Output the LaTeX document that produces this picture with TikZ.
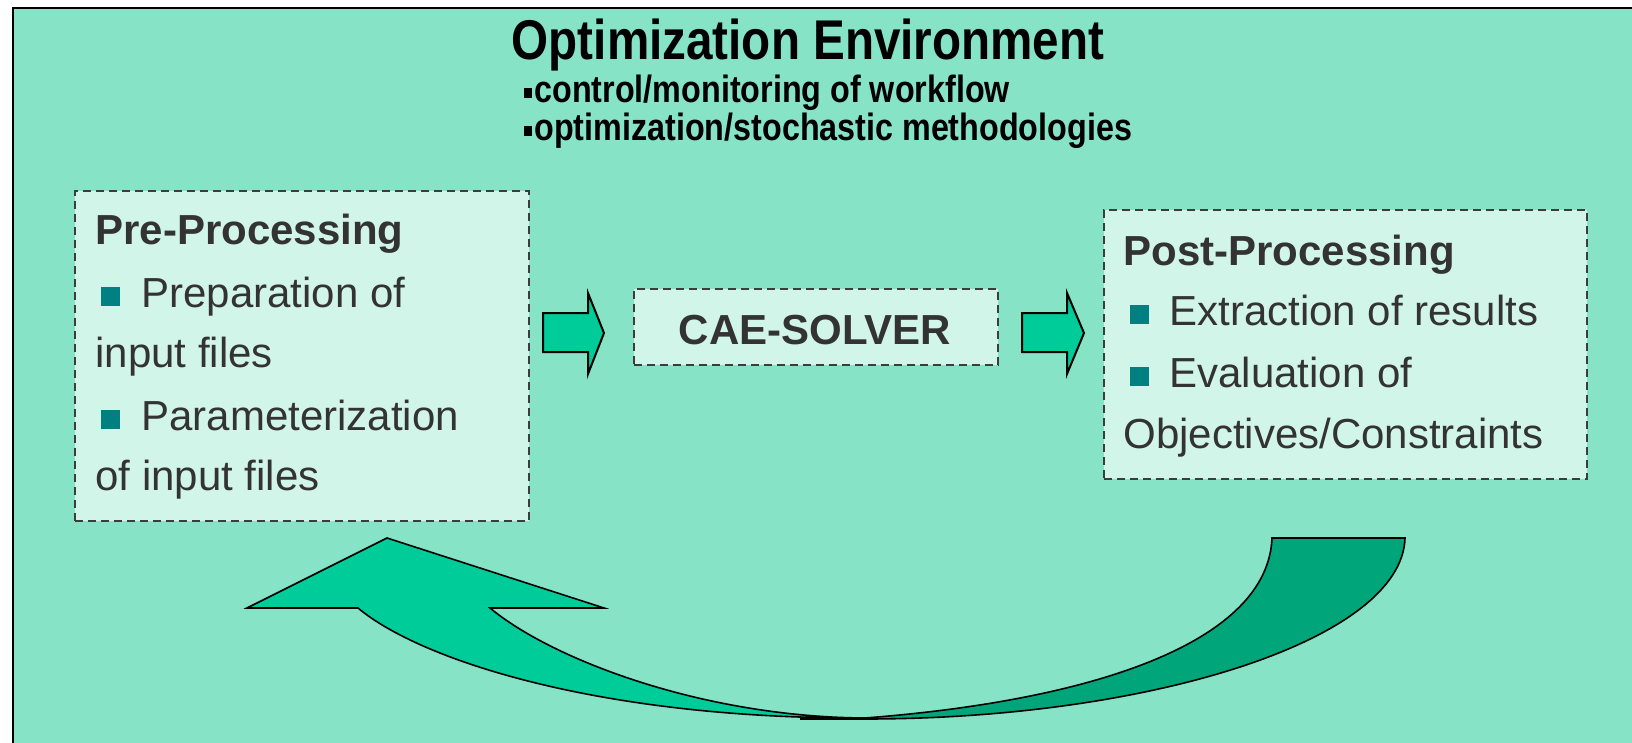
\documentclass[tikz,border=0pt]{standalone}
\usepackage{fontspec}
\setmainfont{Liberation Sans}
\newfontfamily\narrowsans[FakeStretch=0.85]{Liberation Sans}
\definecolor{bgmint}{RGB}{135,227,198}
\definecolor{boxmint}{RGB}{210,245,233}
\definecolor{arrowgreen}{RGB}{0,204,153}
\definecolor{darkgreen}{RGB}{0,166,122}
\definecolor{bullteal}{RGB}{0,128,128}
\definecolor{txtgray}{RGB}{51,51,51}
\definecolor{dashgray}{RGB}{60,60,60}
\tikzset{
  dbox/.style={draw=dashgray, fill=boxmint, dash pattern=on 4pt off 2.5pt, line width=0.9pt, inner sep=0pt, anchor=north west},
  btxt/.style={inner sep=0pt, anchor=base west, text=txtgray, font=\fontsize{21}{25}\selectfont},
  bhead/.style={btxt, font=\fontsize{21}{25}\selectfont\bfseries},
  tbul/.style={fill=bullteal, inner sep=0pt, minimum size=9.5pt, anchor=north west},
  sbul/.style={fill=black, inner sep=0pt, minimum width=3.8pt, minimum height=5pt, anchor=north west},
  stxt/.style={inner sep=0pt, anchor=base west, font=\narrowsans\fontsize{19}{22}\selectfont\bfseries},
  blockarrow/.style={fill=arrowgreen, draw=black, line width=1pt, line join=miter},
  curvearrow/.style={draw=black, line width=0.8pt, line join=miter}
}
\begin{document}
\begin{tikzpicture}[x=0.5pt,y=-0.5pt]
\useasboundingbox (0,0) rectangle (1632,743);
% background frame
\fill[bgmint] (13,8) rectangle (1632,743);
\draw[line width=1pt] (13,743) -- (13,8) -- (1632,8);

% title
\node[inner sep=0pt, anchor=base, font=\narrowsans\fontsize{28}{32}\selectfont\bfseries] (title) at (808,60) {Optimization Environment};
\node[sbul] (sb1) at (524,88) {};
\node[stxt] (s1) at (534,103) {control/monitoring of workflow};
\node[sbul] (sb2) at (524,126) {};
\node[stxt] (s2) at (534,141) {optimization/stochastic methodologies};

% boxes
\node[dbox, minimum width=227pt, minimum height=165pt] (pre) at (74,190) {};
\node[dbox, minimum width=182pt, minimum height=38pt] (cae) at (633,288) {};
\node[dbox, minimum width=241.5pt, minimum height=134.5pt] (post) at (1103,209) {};

% pre-processing text
\node[bhead] (preT) at (95,245) {Pre-Processing};
\node[tbul] (pb1) at (101,287) {};
\node[btxt] (p1) at (141,307) {Preparation of};
\node[btxt] (p1b) at (95,367) {input files};
\node[tbul] (pb2) at (101,410) {};
\node[btxt] (p2) at (141,430) {Parameterization};
\node[btxt] (p2b) at (95,490) {of input files};

% solver
\node[inner sep=0pt, anchor=base, text=txtgray, font=\fontsize{21}{25}\selectfont\bfseries] (caeT) at (815,344) {CAE-SOLVER};

% post-processing text
\node[bhead] (postT) at (1123,265) {Post-Processing};
\node[tbul] (qb1) at (1130,305) {};
\node[btxt] (q1) at (1169,325) {Extraction of results};
\node[tbul] (qb2) at (1130,367) {};
\node[btxt] (q2) at (1169,387) {Evaluation of};
\node[btxt] (q2b) at (1123,448) {Objectives/Constraints};

% block arrows
\draw[blockarrow] (543,313) -- (588,313) -- (588,293) -- (604,333) -- (588,374) -- (588,352) -- (543,352) -- cycle;
\draw[blockarrow] (1022,313) -- (1067,313) -- (1067,293) -- (1084,333) -- (1067,374) -- (1067,352) -- (1022,352) -- cycle;

% curved return arrow
\draw[curvearrow, fill=arrowgreen] (387,538) -- (604,608) -- (490,608)
  .. controls (550,658) and (700,717) .. (865,718)
  .. controls (600,719) and (420,660) .. (358,608)
  -- (247,608) -- cycle;
\draw[curvearrow, fill=darkgreen] (1272,538) -- (1405,538)
  .. controls (1402,640) and (1150,719) .. (865,719)
  -- (800,719) -- (865,718)
  .. controls (1100,700) and (1268,640) .. (1272,538) -- cycle;
\end{tikzpicture}
\end{document}
